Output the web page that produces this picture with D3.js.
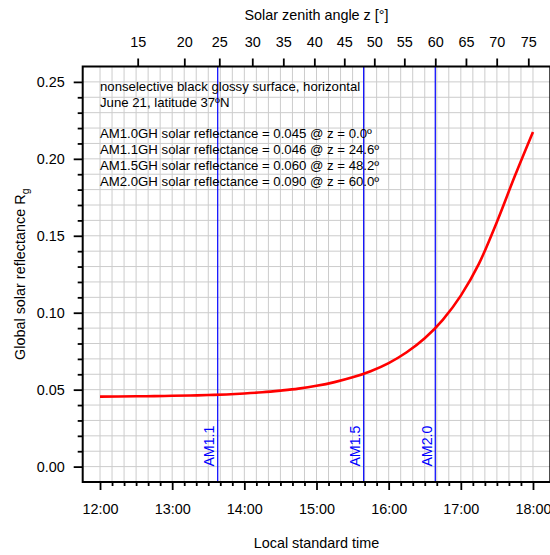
<!DOCTYPE html>
<html>
<head>
<meta charset="utf-8">
<script src="https://cdn.jsdelivr.net/npm/d3@7"></script>
<style>
  html, body { margin: 0; padding: 0; background: #fff; }
  svg { display: block; font-family: "Liberation Sans", Arial, Helvetica, sans-serif; }
</style>
</head>
<body>
<svg id="chart" width="550" height="555"></svg>
<script>
// Local standard time (decimal hours) and global solar reflectance of the surface
const times = [12.00, 12.25, 12.50, 12.75, 13.00, 13.25, 13.50, 13.75, 14.00, 14.25,
               14.50, 14.75, 15.00, 15.25, 15.50, 15.75, 16.00, 16.25, 16.50, 16.75,
               17.00, 17.25, 17.50, 17.75, 18.00];
const reflectance = [0.0455, 0.0456, 0.0457, 0.0458, 0.0460, 0.0462, 0.0465, 0.0469, 0.0475, 0.0483,
                     0.0494, 0.0507, 0.0525, 0.0549, 0.0580, 0.0620, 0.0673, 0.0743, 0.0834, 0.0954,
                     0.1111, 0.1317, 0.1590, 0.1890, 0.2175];

// Air-mass markers
const amLabels = ["AM1.1", "AM1.5", "AM2.0"];
const amTimes = [13.631, 15.654, 16.646];

// Top axis: solar zenith angle ticks and the local times where they fall
const zenithTicks = [15, 20, 25, 30, 35, 40, 45, 50, 55, 60, 65, 70, 75];
const zenithTimes = [12.522, 13.168, 13.653, 14.110, 14.540, 14.970, 15.385, 15.801,
                     16.217, 16.646, 17.071, 17.497, 17.935];

// Bottom axis and left axis ticks
const hourTicks = [12, 13, 14, 15, 16, 17, 18];
const hourLabels = ["12:00", "13:00", "14:00", "15:00", "16:00", "17:00", "18:00"];
const yTicks = [0.00, 0.05, 0.10, 0.15, 0.20, 0.25];
const yLabels = ["0.00", "0.05", "0.10", "0.15", "0.20", "0.25"];

const noteLines = [
  "nonselective black glossy surface, horizontal",
  "June 21, latitude 37ºN",
  "",
  "AM1.0GH solar reflectance = 0.045 @ z = 0.0º",
  "AM1.1GH solar reflectance = 0.046 @ z = 24.6º",
  "AM1.5GH solar reflectance = 0.060 @ z = 48.2º",
  "AM2.0GH solar reflectance = 0.090 @ z = 60.0º"
];

const svg = d3.select("#chart");
const L = 82.7, R = 550.3, T = 66.5, B = 482;

const x = d3.scaleLinear().domain([11.76, 18.24]).range([L, R]);
const y = d3.scaleLinear().domain([-0.01, 0.26]).range([B, T]);

// grid: every 10 minutes and every 0.01
const vGrid = d3.range(0, 37).map(i => 12 + i / 6);
const hGrid = d3.range(0, 26).map(i => i / 100);
const grid = svg.append("g").attr("stroke", "#cccccc").attr("stroke-width", 1);
grid.selectAll("line.v").data(vGrid).join("line").attr("class", "v")
  .attr("x1", d => x(d)).attr("x2", d => x(d)).attr("y1", T).attr("y2", B);
grid.selectAll("line.h").data(hGrid).join("line").attr("class", "h")
  .attr("x1", L).attr("x2", R).attr("y1", d => y(d)).attr("y2", d => y(d));

// air-mass lines and labels
const am = svg.append("g");
am.selectAll("line").data(amTimes).join("line")
  .attr("x1", d => x(d)).attr("x2", d => x(d)).attr("y1", T).attr("y2", B)
  .attr("stroke", "#0000ff").attr("stroke-width", 1.2);
am.selectAll("text").data(amTimes).join("text")
  .attr("transform", d => `translate(${x(d) - 3.5},${y(0)}) rotate(-90)`)
  .attr("fill", "#0000ff").attr("font-size", 14.2)
  .text((d, i) => amLabels[i]);

// reflectance curve
const line = d3.line().x((d, i) => x(times[i])).y(d => y(d)).curve(d3.curveMonotoneX);
svg.append("path").datum(reflectance)
  .attr("d", line).attr("fill", "none").attr("stroke", "#ff0000").attr("stroke-width", 2.6);

// annotation block
const note = svg.append("text").attr("font-size", 13.2).attr("fill", "#000");
noteLines.forEach((s, i) => {
  note.append("tspan").attr("x", 100).attr("y", 91 + i * 15.8).text(s);
});

// axes
const fs = 14.4;
const axisBottom = d3.axisBottom(x).tickValues(hourTicks).tickFormat((d, i) => hourLabels[i])
  .tickSize(8).tickPadding(14);
const minorBottom = d3.axisBottom(x).tickValues(vGrid.filter(d => Math.abs(d - Math.round(d)) > 1e-6))
  .tickSize(4).tickFormat("");
const axisLeft = d3.axisLeft(y).tickValues(yTicks).tickFormat((d, i) => yLabels[i])
  .tickSize(9).tickPadding(9);
const minorLeft = d3.axisLeft(y).tickValues(hGrid.filter(d => Math.round(d * 100) % 5 !== 0))
  .tickSize(5).tickFormat("");
const axisTop = d3.axisTop(x).tickValues(zenithTimes).tickFormat((d, i) => zenithTicks[i])
  .tickSize(8).tickPadding(12);

function style(g) {
  g.select(".domain").remove();
  g.selectAll(".tick line").attr("stroke", "#000").attr("stroke-width", 1.8);
  g.selectAll(".tick text").attr("font-size", fs).attr("fill", "#000")
    .attr("font-family", "Liberation Sans, Arial, sans-serif");
}
svg.append("g").attr("transform", `translate(0,${B})`).call(axisBottom).call(style);
svg.append("g").attr("transform", `translate(0,${B})`).call(minorBottom).call(style);
svg.append("g").attr("transform", `translate(${L},0)`).call(axisLeft).call(style);
svg.append("g").attr("transform", `translate(${L},0)`).call(minorLeft).call(style);
svg.append("g").attr("transform", `translate(0,${T})`).call(axisTop).call(style);

// frame
svg.append("rect").attr("x", L).attr("y", T).attr("width", R - L).attr("height", B - T)
  .attr("fill", "none").attr("stroke", "#000").attr("stroke-width", 2);

// titles
svg.append("text").attr("x", (L + R) / 2).attr("y", 20).attr("text-anchor", "middle")
  .attr("font-size", fs).text("Solar zenith angle z [°]");
svg.append("text").attr("x", (L + R) / 2).attr("y", 548).attr("text-anchor", "middle")
  .attr("font-size", fs).text("Local standard time");
const yt = svg.append("text").attr("transform", `translate(25,${(T + B) / 2}) rotate(-90)`)
  .attr("text-anchor", "middle").attr("font-size", fs);
yt.append("tspan").text("Global solar reflectance R");
yt.append("tspan").attr("font-size", fs * 0.72).attr("dy", 4).text("g");
</script>
</body>
</html>
